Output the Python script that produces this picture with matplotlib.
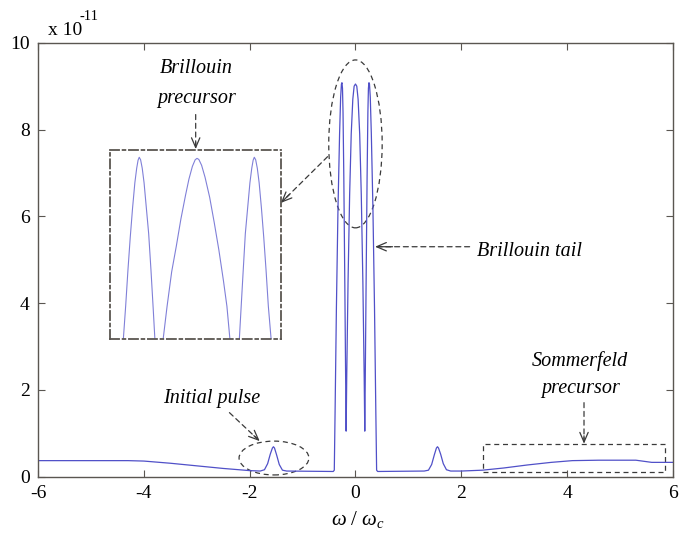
import matplotlib
matplotlib.use("Agg")
import matplotlib.pyplot as plt
from matplotlib.patches import Ellipse, Rectangle

plt.rcParams['font.family'] = ['Liberation Serif', 'DejaVu Serif']
plt.rcParams['mathtext.fontset'] = 'custom'
plt.rcParams['mathtext.rm'] = 'Liberation Serif'
plt.rcParams['mathtext.it'] = 'Liberation Serif:italic'
plt.rcParams['axes.unicode_minus'] = False

# main curve, omega/omega_c vs amplitude (x 1e-11)
omega = [-6.0, -5.0, -4.3, -4.0, -3.5, -3.0, -2.5, -2.0, -1.8,
         -1.72, -1.66, -1.61, -1.57, -1.55, -1.53, -1.49, -1.44, -1.38, -1.3,
         -0.42, -0.40, -0.385, -0.36, -0.33, -0.30, -0.28, -0.265, -0.255, -0.245,
         -0.235, -0.22, -0.20, -0.185, -0.176,
         -0.165, -0.14, -0.11, -0.08, -0.05, -0.025, 0.0, 0.025, 0.05, 0.08, 0.11,
         0.14, 0.165,
         0.176, 0.185, 0.20, 0.22, 0.235, 0.245, 0.255, 0.265, 0.28, 0.30, 0.33,
         0.36, 0.385, 0.40, 0.42,
         1.3, 1.38, 1.44, 1.49, 1.53, 1.55, 1.57, 1.61, 1.66, 1.72, 1.8,
         2.0, 2.4, 2.8, 3.25, 3.7, 4.1, 4.6, 5.3, 5.6, 6.0]
amp = [0.37, 0.37, 0.37, 0.36, 0.31, 0.25, 0.19, 0.14, 0.13,
       0.16, 0.30, 0.52, 0.66, 0.69, 0.66, 0.50, 0.28, 0.15, 0.13,
       0.12, 0.15, 1.5, 3.9, 6.2, 7.9, 8.75, 9.05, 9.08, 8.95,
       8.4, 6.9, 4.3, 2.2, 1.05,
       2.3, 4.5, 6.5, 7.9, 8.7, 9.0, 9.05, 9.0, 8.7, 7.9, 6.5,
       4.5, 2.3,
       1.05, 2.2, 4.3, 6.9, 8.4, 8.95, 9.08, 9.05, 8.75, 7.9, 6.2,
       3.9, 1.5, 0.15, 0.12,
       0.13, 0.15, 0.28, 0.50, 0.66, 0.69, 0.66, 0.52, 0.30, 0.16, 0.13,
       0.13, 0.15, 0.20, 0.27, 0.33, 0.37, 0.38, 0.38, 0.33, 0.33]

# zoomed view of the Brillouin peaks (inset)
inset_x = [-0.32, -0.31, -0.30, -0.29, -0.28, -0.27, -0.262, -0.256, -0.251, -0.245,
           -0.238, -0.23, -0.22, -0.21, -0.20, -0.19, -0.183,
           -0.165,
           -0.147, -0.13, -0.11, -0.09, -0.07, -0.05, -0.035, -0.02, -0.008, 0.0,
           0.008, 0.02, 0.035, 0.055, 0.075, 0.095, 0.115, 0.13, 0.143,
           0.163,
           0.184, 0.192, 0.20, 0.21, 0.22, 0.23, 0.238, 0.244, 0.249, 0.255,
           0.262, 0.27, 0.28, 0.29, 0.30, 0.31, 0.322]
inset_y = [4.0, 4.9, 5.9, 6.8, 7.6, 8.3, 8.7, 8.92, 9.0, 8.93,
           8.7, 8.3, 7.6, 6.9, 5.9, 4.8, 4.0,
           3.0,
           4.0, 4.9, 5.85, 6.55, 7.3, 7.95, 8.4, 8.75, 8.93, 8.97,
           8.94, 8.78, 8.45, 7.9, 7.2, 6.45, 5.6, 4.9, 4.0,
           3.0,
           4.0, 4.9, 5.8, 6.9, 7.6, 8.3, 8.7, 8.92, 9.0, 8.93,
           8.7, 8.3, 7.6, 6.8, 5.9, 4.9, 4.0]

xticks = [-6, -4, -2, 0, 2, 4, 6]
yticks = [0, 2, 4, 6, 8, 10]

line_c = '#5050c8'
ax_c = '#5a5651'
dash_c = '#3a3a3a'

fig = plt.figure(figsize=(6.79, 5.35), dpi=100)
ax = fig.add_axes([0.056, 0.109, 0.935, 0.811])
ax.plot(omega, amp, color=line_c, lw=0.9)
ax.set_xlim(-6, 6)
ax.set_ylim(0, 10)
ax.set_xticks(xticks)
ax.set_yticks(yticks)
ax.tick_params(direction='in', top=True, right=True, length=5, labelsize=14,
               color=ax_c, pad=6)
for s in ax.spines.values():
    s.set_color(ax_c)
    s.set_linewidth(1.0)

fig.text(358 / 679, 1 - 519 / 535, r'$\omega\ /\ \omega_c$', fontsize=15,
         ha='center', va='center')
fig.text(48 / 679, 1 - 35 / 535, 'x 10', fontsize=14, ha='left', va='baseline')
fig.text(80 / 679, 1 - 20 / 535, '-11', fontsize=10.5, ha='left', va='baseline')


def arrow(a, p0, p1):
    a.annotate('', xy=p1, xytext=p0,
               arrowprops=dict(arrowstyle='-', linestyle=(0, (4, 3)), color=dash_c, lw=0.9))
    f = 0.82
    mid = (p0[0] + f * (p1[0] - p0[0]), p0[1] + f * (p1[1] - p0[1]))
    a.annotate('', xy=p1, xytext=mid,
               arrowprops=dict(arrowstyle='->,head_length=0.7,head_width=0.3',
                               color=dash_c, lw=0.9, shrinkA=0, shrinkB=0))


tfont = dict(fontsize=14.5, style='italic', ha='center', va='baseline')

# Brillouin precursor
ax.text(-3.0, 9.30, 'Brillouin', **tfont)
ax.text(-3.0, 8.61, 'precursor', **tfont)
arrow(ax, (-3.02, 8.41), (-3.02, 7.55))
ax.add_patch(Ellipse((0, 7.67), 1.01, 3.87, fill=False, ls=(0, (4, 3)), ec=dash_c, lw=0.9))
arrow(ax, (-0.49, 7.42), (-1.41, 6.31))

# Brillouin tail
ax.text(2.29, 5.09, 'Brillouin tail', fontsize=14.5, style='italic', ha='left', va='baseline')
arrow(ax, (2.21, 5.30), (0.37, 5.30))

# Initial pulse
ax.text(-2.72, 1.69, 'Initial pulse', **tfont)
arrow(ax, (-2.42, 1.52), (-1.81, 0.82))
ax.add_patch(Ellipse((-1.54, 0.43), 1.32, 0.78, fill=False, ls=(0, (4, 3)), ec=dash_c, lw=0.9))

# Sommerfeld precursor
ax.text(4.25, 2.54, 'Sommerfeld', **tfont)
ax.text(4.25, 1.92, 'precursor', **tfont)
arrow(ax, (4.32, 1.77), (4.32, 0.76))
ax.add_patch(Rectangle((2.42, 0.115), 3.44, 0.635, fill=False, ls=(0, (4, 3)), ec=dash_c, lw=0.9))

# inset
ins = fig.add_axes([110 / 679, 1 - 339 / 535, 171 / 679, 189 / 535])
ins.plot(inset_x, inset_y, color='#8080d8', lw=0.8)
ins.set_xlim(-0.378, 0.365)
ins.set_ylim(4.0, 9.2)
ins.set_xticks([])
ins.set_yticks([])
for s in ins.spines.values():
    s.set_linestyle((0, (5, 2, 1.5, 2)))
    s.set_color(ax_c)
    s.set_linewidth(1.3)

fig.savefig('out.png', dpi=100)
